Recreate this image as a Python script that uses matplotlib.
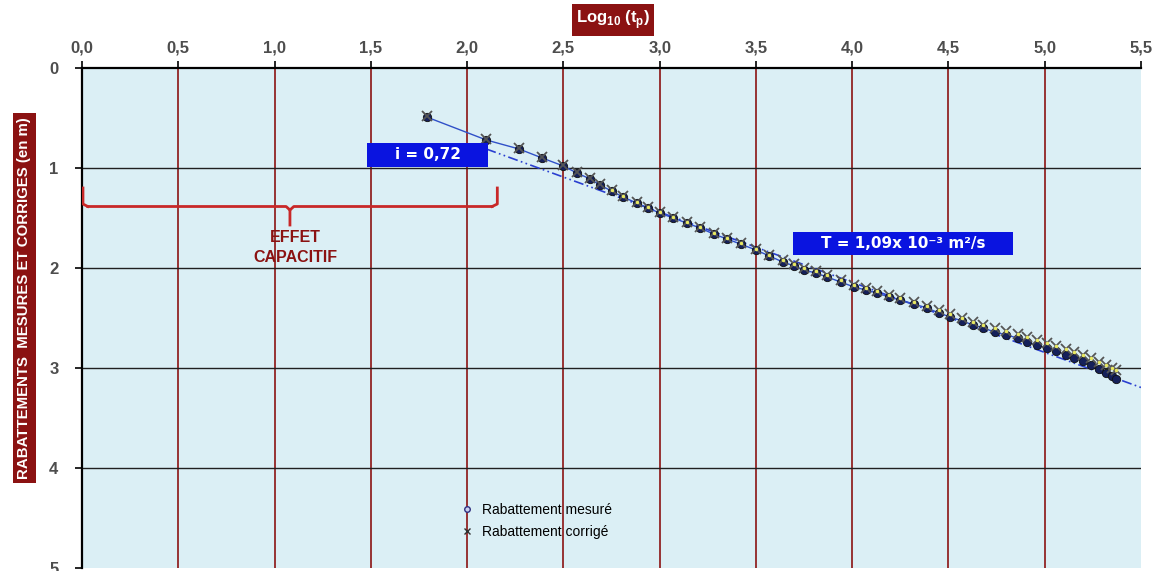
import matplotlib
matplotlib.use("Agg")
import matplotlib.pyplot as plt
from matplotlib.lines import Line2D
from matplotlib.patches import Rectangle

# log10 du temps de pompage
log_t = [1.79, 2.10, 2.27, 2.39, 2.50, 2.57, 2.64, 2.69, 2.75, 2.81, 2.88, 2.94,
         3.00, 3.07, 3.14, 3.21, 3.28, 3.35, 3.42, 3.50, 3.57, 3.64, 3.70, 3.75,
         3.81, 3.87, 3.94, 4.01, 4.07, 4.13, 4.19, 4.25, 4.32, 4.39, 4.45, 4.51,
         4.57, 4.63, 4.68, 4.74, 4.80, 4.86, 4.91, 4.96, 5.01, 5.06, 5.11, 5.15,
         5.20, 5.24, 5.28, 5.32, 5.35, 5.37]

# rabattement mesuré (m)
s_mesure = [0.49, 0.72, 0.81, 0.90, 0.98, 1.05, 1.11, 1.17, 1.23, 1.29, 1.35, 1.40,
            1.45, 1.50, 1.55, 1.60, 1.66, 1.71, 1.76, 1.82, 1.88, 1.94, 1.98, 2.02,
            2.05, 2.09, 2.14, 2.19, 2.22, 2.25, 2.29, 2.32, 2.36, 2.40, 2.45, 2.49,
            2.53, 2.57, 2.60, 2.64, 2.67, 2.70, 2.74, 2.77, 2.80, 2.83, 2.87, 2.90,
            2.93, 2.97, 3.01, 3.05, 3.08, 3.11]

# rabattement corrigé (m)
s_corrige = [0.48, 0.71, 0.80, 0.89, 0.97, 1.04, 1.10, 1.16, 1.22, 1.28, 1.34, 1.39,
             1.44, 1.49, 1.54, 1.59, 1.65, 1.70, 1.75, 1.81, 1.87, 1.92, 1.96, 2.00,
             2.03, 2.07, 2.12, 2.17, 2.20, 2.23, 2.27, 2.30, 2.34, 2.38, 2.42, 2.46,
             2.50, 2.54, 2.57, 2.60, 2.63, 2.66, 2.69, 2.72, 2.75, 2.78, 2.81, 2.84,
             2.87, 2.90, 2.94, 2.97, 3.00, 3.02]

# droite de Jacob (pente i = 0,72)
droite_x = [2.10, 5.55]
droite_s = [0.81, 3.23]

x_ticks = [0.0, 0.5, 1.0, 1.5, 2.0, 2.5, 3.0, 3.5, 4.0, 4.5, 5.0, 5.5]
y_ticks = [0, 1, 2, 3, 4, 5]

DARKRED = "#8b1212"
BLUE_BOX = "#0a14e0"
TICK_COL = "#4d4d4d"

plt.rcParams["font.family"] = ["Liberation Sans", "DejaVu Sans"]
plt.rcParams["mathtext.fontset"] = "custom"
plt.rcParams["mathtext.rm"] = "Liberation Sans:bold"
plt.rcParams["mathtext.bf"] = "Liberation Sans:bold"

W, H = 1163, 571
fig = plt.figure(figsize=(W / 100, H / 100), dpi=100)
fig.patch.set_facecolor("white")
ax = fig.add_axes([82 / W, 3 / H, 1059 / W, 500 / H])
ax.set_facecolor("#dbeff5")

ax.set_xlim(0, 5.5)
ax.set_ylim(5, 0)

# grille : verticales rouge foncé, horizontales noires
for xv in x_ticks[1:-1]:
    ax.axvline(xv, color=DARKRED, lw=1.2, zorder=1)
for yv in y_ticks[1:-1]:
    ax.axhline(yv, color="#202020", lw=1.0, zorder=1)

for side in ("right", "bottom"):
    ax.spines[side].set_visible(False)
for side in ("top", "left"):
    ax.spines[side].set_color("black")
    ax.spines[side].set_linewidth(1.6)

ax.xaxis.tick_top()
ax.set_xticks(x_ticks)
ax.set_xticklabels([f"{v:.1f}".replace(".", ",") for v in x_ticks])
ax.set_yticks(y_ticks)
ax.set_yticklabels([str(v) for v in y_ticks])
ax.tick_params(axis="both", direction="out", length=5, width=1.2, color="black",
               labelsize=12, labelcolor=TICK_COL, pad=4)
for lab in ax.get_xticklabels() + ax.get_yticklabels():
    lab.set_fontweight("bold")
ax.tick_params(axis="y", pad=12)

# séries
ax.plot(droite_x, droite_s, color="#2a3fd0", lw=1.2, ls=(0, (6, 2, 1, 2, 1, 2)),
        zorder=3)
ax.plot(log_t, s_mesure, color="#3050c8", lw=1.0, zorder=3)
ax.plot(log_t, s_mesure, ls="none", marker="o", ms=6, mfc="#15205a",
        mec="#101010", mew=0.6, zorder=4)
ax.plot(log_t, s_corrige, ls="none", marker="x", ms=6.5, color="#555555",
        mew=1.3, zorder=5)
ax.plot(log_t[8:], s_corrige[8:], ls="none", marker=".", ms=3,
        color="#e8e860", zorder=6)

# accolade "effet capacitif"
brace_col = "#c82828"
ax.plot([0.005, 0.005, 0.03], [1.20, 1.36, 1.385], color=brace_col, lw=2, zorder=3)
ax.plot([0.03, 1.06, 1.08, 1.08], [1.385, 1.385, 1.42, 1.57], color=brace_col,
        lw=2, zorder=3)
ax.plot([1.08, 1.10, 2.13], [1.42, 1.385, 1.385], color=brace_col, lw=2, zorder=3)
ax.plot([2.13, 2.157, 2.157], [1.385, 1.36, 1.20], color=brace_col, lw=2, zorder=3)
ax.text(1.11, 1.695, "EFFET", ha="center", va="center", fontsize=11.5,
        fontweight="bold", color=DARKRED, zorder=6)
ax.text(1.11, 1.89, "CAPACITIF", ha="center", va="center", fontsize=11.5,
        fontweight="bold", color=DARKRED, zorder=6)

# étiquettes bleues
ax.add_patch(Rectangle((1.48, 0.75), 0.63, 0.24, facecolor=BLUE_BOX,
                       edgecolor="none", zorder=6))
ax.text(1.795, 0.87, "i = 0,72", ha="center", va="center", fontsize=11,
        fontweight="bold", color="white", family="DejaVu Sans", zorder=7)
ax.add_patch(Rectangle((3.695, 1.64), 1.14, 0.23, facecolor=BLUE_BOX,
                       edgecolor="none", zorder=6))
ax.text(4.265, 1.755, "T = 1,09x 10\u207b\u00b3 m\u00b2/s", ha="center",
        va="center", fontsize=11, fontweight="bold", color="white",
        family="DejaVu Sans", zorder=7)

# légende
handles = [
    Line2D([], [], ls="none", marker="o", ms=4, mfc="#c8d0f0", mec="#303080"),
    Line2D([], [], ls="none", marker="x", ms=4.5, color="#303030", mew=1.0),
]
ax.legend(handles, ["Rabattement mesuré", "Rabattement corrigé"],
          loc="upper left", bbox_to_anchor=(0.345, 0.155), frameon=False,
          fontsize=10, handlelength=1.0, handletextpad=0.6, labelspacing=0.6)

# titres d'axes en cartouche rouge
fig.text(613 / W, 1 - 20 / H, r"Log$_{\mathrm{10}}$ (t$_{\mathrm{p}}$)",
         ha="center", va="center",
         fontsize=12, fontweight="bold", color="white",
         bbox=dict(boxstyle="square,pad=0.25", facecolor=DARKRED, edgecolor="none"))
fig.text(24.5 / W, 1 - 298 / H, "RABATTEMENTS  MESURES ET CORRIGES (en m)",
         rotation=90, ha="center", va="center", fontsize=10.8, fontweight="bold",
         color="white",
         bbox=dict(boxstyle="square,pad=0.3", facecolor=DARKRED, edgecolor="none"))

fig.savefig("out.png", dpi=100)
